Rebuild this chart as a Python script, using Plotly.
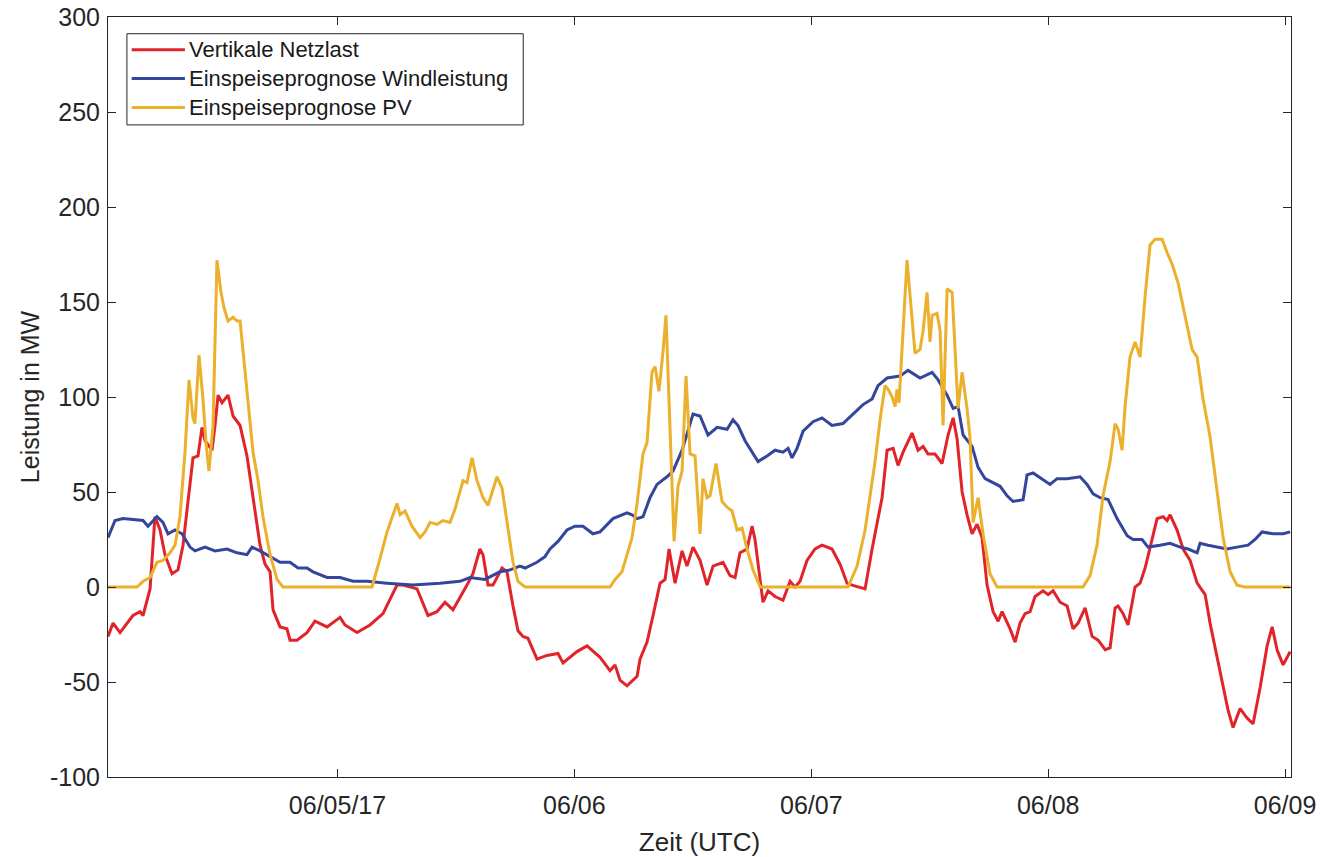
import pandas as pd
import plotly.graph_objects as go

# Hours since 2017-06-04 00:00 UTC and values in MW
load_hours = [0.75, 1.26, 1.97, 3.28, 3.99, 4.30, 5.01, 5.51, 6.02, 6.52, 7.23, 7.84, 8.35, 9.06, 9.36,
              9.87, 10.27, 10.58, 11.29, 11.59, 11.90, 12.30, 12.91, 13.42, 14.13, 14.83, 15.44, 16.15,
              16.66, 17.17, 17.47, 18.18, 18.88, 19.19, 19.90, 20.91, 21.72, 22.94, 24.26, 24.76, 25.98,
              27.29, 28.61, 30.03, 30.64, 32.06, 33.17, 34.08, 34.89, 35.70, 37.12, 37.72, 38.43, 38.74,
              39.25, 39.75, 40.67, 41.17, 41.78, 42.29, 42.79, 43.30, 44.21, 45.22, 46.34, 46.85, 48.26,
              49.28, 50.60, 51.61, 52.12, 52.62, 53.33, 53.94, 54.35, 54.65, 55.36, 55.97, 56.68, 57.19,
              57.59, 58.20, 58.91, 59.41, 60.02, 60.73, 61.44, 62.05, 63.06, 63.77, 64.28, 64.78, 65.49,
              66.00, 66.30, 66.81, 67.11, 67.62, 68.33, 69.14, 69.85, 70.36, 70.86, 71.57, 72.38, 73.09,
              74.10, 74.91, 75.62, 76.13, 76.94, 77.45, 78.16, 78.66, 79.17, 79.68, 80.29, 80.79, 81.30,
              82.21, 82.82, 83.33, 83.83, 84.54, 85.25, 85.86, 86.37, 86.77, 87.28, 87.78, 88.29, 88.80,
              89.30, 89.81, 90.42, 90.93, 91.33, 92.14, 92.65, 93.15, 93.66, 94.17, 94.67, 95.48, 95.99,
              96.50, 97.21, 97.92, 98.52, 99.03, 99.74, 100.45, 101.06, 101.77, 102.27, 102.78, 103.08,
              103.59, 104.09, 104.80, 105.31, 105.82, 106.53, 107.03, 107.64, 108.05, 108.35, 109.06,
              109.67, 110.38, 111.09, 111.90, 112.40, 113.11, 113.72, 114.23, 114.73, 115.44, 116.15,
              116.76, 117.47, 118.18, 118.69, 119.19, 119.80, 120.51]
load_mw = [-26, -19, -24, -15, -13, -15, -1, 37, 30, 17, 7, 9, 22, 56, 68,
           69, 84, 77, 72, 85, 101, 97, 101, 90, 85, 69, 47, 22,
           12, 8, -12, -21, -22, -28, -28, -24, -18, -21, -16, -20, -24,
           -20, -14, 1, 1, -1, -15, -13, -8, -12, 1, 7, 20, 17,
           1, 1, 10, 8, -10, -23, -26, -27, -38, -36, -35, -40, -34,
           -31, -37, -44, -41, -49, -52, -49, -47, -38, -29, -15, 2, 4,
           20, 2, 19, 11, 21, 14, 1, 11, 13, 6, 5, 18, 20,
           32, 25, 4, -8, -2, -5, -7, 3, 0, 3, 14, 20, 22,
           20, 12, 2, 1, 0, -1, 20, 34, 47, 72, 73, 64, 71,
           81, 72, 74, 70, 70, 65, 80, 89, 78, 50, 38, 28, 33,
           26, 1, -13, -18, -13, -22, -29, -19, -14, -13, -5, -2, -4,
           -2, -8, -10, -22, -19, -11, -26, -28, -33, -32, -11, -10,
           -14, -20, 0, 2, 10, 26, 36, 37, 35, 38, 30,
           20, 14, 2, -4, -19, -37, -51, -65, -74, -64, -69,
           -72, -53, -31, -21, -33, -41, -34]

wind_hours = [0.75, 1.46, 2.27, 4.30, 4.80, 5.71, 6.32, 6.83, 7.54, 8.25, 9.06, 9.56, 10.58, 11.59,
              12.81, 13.82, 14.83, 15.34, 16.15, 17.17, 18.18, 19.19, 20.00, 20.91, 21.52, 22.94, 24.26,
              25.58, 26.99, 29.02, 31.65, 34.39, 36.41, 37.42, 38.94, 40.46, 41.48, 42.49, 43.00, 44.21,
              45.02, 45.53, 46.34, 47.25, 48.06, 48.87, 49.88, 50.60, 51.91, 53.33, 53.84, 54.35, 54.95,
              55.66, 56.37, 57.38, 57.99, 58.91, 59.41, 60.02, 60.73, 61.54, 62.46, 63.47, 64.07, 64.58,
              65.29, 66.00, 66.61, 67.52, 68.33, 69.14, 69.65, 70.05, 70.56, 71.17, 72.18, 73.09, 74.10,
              75.21, 76.23, 77.24, 78.16, 78.76, 79.68, 80.99, 81.80, 83.02, 84.24, 84.85, 85.76, 86.37,
              86.87, 87.38, 88.29, 88.90, 89.61, 90.42, 91.13, 91.84, 92.44, 93.46, 93.86, 94.47, 95.38,
              96.19, 96.90, 97.92, 99.23, 99.94, 100.55, 101.26, 102.07, 102.98, 104.00, 104.60, 105.51,
              106.12, 107.33, 108.35, 109.37, 110.18, 111.09, 111.39, 112.20, 113.11, 114.12, 115.13,
              116.25, 116.96, 117.67, 118.78, 119.80, 120.51]
wind_mw = [26, 35, 36, 35, 32, 37, 34, 28, 30, 28, 21, 19, 21, 19,
           20, 18, 17, 21, 19, 16, 13, 13, 10, 10, 8, 5, 5,
           3, 3, 2, 1, 2, 3, 5, 4, 8, 9, 11, 10, 13,
           16, 20, 24, 30, 32, 32, 28, 29, 36, 39, 38, 36, 37,
           47, 54, 58, 61, 72, 81, 91, 90, 80, 84, 83, 88, 85,
           77, 71, 66, 69, 72, 71, 73, 68, 73, 82, 87, 89, 85,
           86, 91, 96, 99, 106, 110, 111, 114, 110, 113, 109, 101, 94,
           95, 80, 74, 63, 57, 55, 53, 48, 45, 46, 59, 60, 57,
           54, 57, 57, 58, 54, 49, 47, 46, 36, 27, 25, 25,
           21, 22, 23, 21, 20, 18, 23, 22, 21, 20, 21,
           22, 25, 29, 28, 28, 29]

pv_hours = [0.75, 3.69, 4.30, 5.01, 5.71, 6.32, 7.03, 7.54, 8.04, 8.55, 8.96, 9.36, 9.56, 9.97, 10.37,
            10.68, 10.98, 11.39, 11.79, 12.20, 12.50, 12.91, 13.42, 13.82, 14.13, 14.83, 15.44, 15.95,
            16.45, 17.17, 17.87, 18.48, 27.50, 28.31, 29.02, 30.03, 30.34, 30.84, 31.55, 32.36, 32.87,
            33.37, 34.08, 34.69, 35.40, 35.91, 36.72, 37.12, 37.63, 38.13, 38.74, 39.25, 40.16, 40.67,
            41.17, 41.78, 42.29, 43.00, 51.61, 52.12, 52.82, 53.33, 53.84, 54.35, 54.95, 55.36, 55.86,
            56.17, 56.57, 56.98, 57.28, 57.69, 58.10, 58.50, 58.91, 59.31, 59.72, 60.22, 60.73, 61.03,
            61.44, 61.74, 62.35, 62.96, 63.47, 63.97, 64.48, 64.99, 65.49, 66.10, 66.81, 75.72, 76.64,
            77.45, 77.95, 78.46, 78.97, 79.47, 79.78, 80.19, 80.49, 80.69, 80.89, 81.70, 82.51, 83.02,
            83.33, 83.73, 84.03, 84.24, 84.74, 85.05, 85.35, 85.76, 86.27, 86.57, 86.87, 87.28, 87.78,
            88.09, 88.39, 88.90, 89.40, 90.11, 90.82, 99.53, 100.24, 100.95, 101.56, 102.27, 102.78,
            103.08, 103.49, 103.79, 104.29, 104.80, 105.31, 105.82, 106.32, 106.83, 107.54, 108.05,
            108.55, 109.16, 109.87, 110.58, 111.09, 111.69, 112.40, 113.11, 113.72, 114.43, 115.13,
            115.94, 120.51]
pv_mw = [0, 0, 3, 5, 13, 14, 18, 22, 37, 71, 109, 89, 86, 122, 99,
         76, 61, 85, 172, 155, 147, 140, 142, 140, 140, 103, 71, 56,
         37, 17, 4, 0, 0, 15, 29, 44, 38, 40, 32, 26, 29,
         34, 33, 35, 34, 41, 56, 55, 68, 56, 47, 43, 58, 52,
         34, 13, 3, 0, 0, 4, 8, 17, 26, 44, 70, 76, 113,
         116, 103, 124, 143, 83, 24, 53, 61, 111, 70, 69, 28, 57,
         47, 48, 65, 45, 42, 40, 30, 31, 20, 9, 0, 0, 11,
         30, 48, 66, 88, 106, 104, 100, 95, 104, 97, 172, 123, 125,
         135, 155, 129, 143, 144, 135, 85, 157, 155, 121, 94, 113, 94,
         78, 34, 47, 28, 7, 0, 0, 6, 22, 48, 66, 86,
         83, 72, 95, 121, 129, 121, 153, 180, 183, 183, 176,
         170, 160, 143, 125, 121, 99, 79, 52, 26, 8, 1,
         0, 0]

series_names = ["Vertikale Netzlast", "Einspeiseprognose Windleistung", "Einspeiseprognose PV"]
series_colors = ["#E1232A", "#34469C", "#EBB02C"]

tick_dates = ["2017-06-05", "2017-06-06", "2017-06-07", "2017-06-08", "2017-06-09"]
tick_labels = ["06/05/17", "06/06", "06/07", "06/08", "06/09"]
y_ticks = [-100, -50, 0, 50, 100, 150, 200, 250, 300]
y_tick_labels = ["-100", "-50", "0", "50", "100", "150", "200", "250", "300"]

t0 = pd.Timestamp("2017-06-04 00:00")


def to_time(hours):
    return t0 + pd.to_timedelta(hours, unit="h")


fig = go.Figure()
for name, color, hrs, vals in zip(series_names, series_colors,
                                  [load_hours, wind_hours, pv_hours],
                                  [load_mw, wind_mw, pv_mw]):
    fig.add_trace(go.Scatter(
        x=to_time(hrs), y=vals, mode="lines", name=name,
        line=dict(color=color, width=3), showlegend=False,
    ))

font_family = "Liberation Sans, Arial, Helvetica, sans-serif"
axis_color = "#262626"

# Boxed legend in the upper-left corner (paper coordinates of the plot area)
leg_x0, leg_x1 = 0.016, 0.351
leg_y0, leg_y1 = 0.858, 0.978
sample_x0, sample_x1 = 0.020, 0.065
text_x = 0.067
entry_y = [0.957, 0.919, 0.881]

shapes = [dict(type="rect", xref="paper", yref="paper",
               x0=leg_x0, x1=leg_x1, y0=leg_y0, y1=leg_y1,
               line=dict(color=axis_color, width=1), fillcolor="white", layer="above")]
annotations = []
for name, color, ey in zip(series_names, series_colors, entry_y):
    shapes.append(dict(type="line", xref="paper", yref="paper",
                       x0=sample_x0, x1=sample_x1, y0=ey, y1=ey,
                       line=dict(color=color, width=3), layer="above"))
    annotations.append(dict(xref="paper", yref="paper", x=text_x, y=ey,
                            xanchor="left", yanchor="middle", showarrow=False,
                            text=name, font=dict(size=22, color="#1a1a1a")))

fig.update_layout(
    width=1321, height=857,
    margin=dict(l=108, r=30, t=17, b=80),
    paper_bgcolor="white", plot_bgcolor="white",
    font=dict(family=font_family, size=24, color=axis_color),
    showlegend=False,
    shapes=shapes,
    annotations=annotations,
    xaxis=dict(
        range=[to_time(0.75), to_time(120.6)],
        tickmode="array", tickvals=pd.to_datetime(tick_dates), ticktext=tick_labels,
        ticks="inside", ticklen=8, tickcolor=axis_color, tickwidth=1,
        showline=True, linecolor=axis_color, linewidth=1, mirror="ticks",
        showgrid=False, zeroline=False, ticklabelstandoff=6, automargin=False,
        tickfont=dict(size=25, color=axis_color),
        title=dict(text="Zeit (UTC)", font=dict(size=26, color=axis_color), standoff=14),
    ),
    yaxis=dict(
        range=[-100, 300],
        tickmode="array", tickvals=y_ticks, ticktext=y_tick_labels,
        ticks="inside", ticklen=8, tickcolor=axis_color, tickwidth=1,
        showline=True, linecolor=axis_color, linewidth=1, mirror="ticks",
        showgrid=False, zeroline=False, ticklabelstandoff=2, automargin=False,
        tickfont=dict(size=25, color=axis_color),
        title=dict(text="Leistung in MW", font=dict(size=25, color=axis_color), standoff=3),
    ),
)

fig.write_html("out.html")
